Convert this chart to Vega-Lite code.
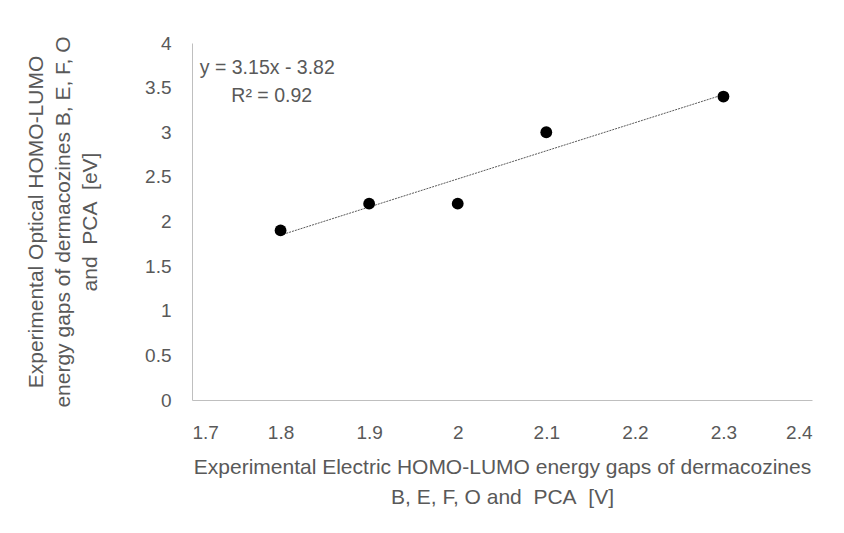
{
  "$schema": "https://vega.github.io/schema/vega-lite/v6.json",
  "autosize": {"type": "none"},
  "width": 620,
  "height": 357,
  "padding": {"left": 192, "top": 43, "right": 32, "bottom": 133},
  "background": "white",
  "config": {
    "view": {"stroke": null},
    "font": "Liberation Sans",
    "text": {"fontWeight": 400},
    "axis": {
      "grid": false,
      "ticks": false,
      "domainColor": "#bfbfbf",
      "domainWidth": 1,
      "labelColor": "#595959",
      "titleColor": "#595959",
      "labelFont": "Liberation Sans",
      "titleFont": "Liberation Sans",
      "labelFontSize": 19,
      "titleFontSize": 21,
      "labelFontWeight": "normal",
      "titleFontWeight": "normal"
    }
  },
  "data": {
    "values": [
      {"electric": 1.8, "optical": 1.9},
      {"electric": 1.9, "optical": 2.2},
      {"electric": 2.0, "optical": 2.2},
      {"electric": 2.1, "optical": 3.0},
      {"electric": 2.3, "optical": 3.4}
    ]
  },
  "layer": [
    {
      "transform": [
        {"regression": "optical", "on": "electric", "method": "linear", "extent": [1.8, 2.3]}
      ],
      "mark": {"type": "line", "color": "#595959", "strokeWidth": 1, "strokeDash": [2, 1]},
      "encoding": {
        "x": {
          "field": "electric",
          "type": "quantitative",
          "scale": {"domain": [1.7, 2.4], "nice": false, "zero": false},
          "axis": {
            "values": [1.7, 1.8, 1.9, 2.0, 2.1, 2.2, 2.3, 2.4],
            "format": "~g",
            "labelPadding": 23,
            "title": ["Experimental Electric HOMO-LUMO energy gaps of dermacozines", "B, E, F, O and\u00a0 PCA\u00a0 [V]"],
            "titlePadding": 14,
            "titleLineHeight": 30
          }
        },
        "y": {
          "field": "optical",
          "type": "quantitative",
          "scale": {"domain": [0, 4], "nice": false},
          "axis": {
            "values": [0, 0.5, 1, 1.5, 2, 2.5, 3, 3.5, 4],
            "format": "~g",
            "labelPadding": 21,
            "title": ["Experimental Optical HOMO-LUMO", "energy gaps of dermacozines B, E, F, O", "and\u00a0 PCA\u00a0 [eV]"],
            "titlePadding": 44,
            "titleLineHeight": 27
          }
        }
      }
    },
    {
      "mark": {"type": "point", "filled": true, "color": "black", "opacity": 1, "size": 140},
      "encoding": {
        "x": {"field": "electric", "type": "quantitative"},
        "y": {"field": "optical", "type": "quantitative"}
      }
    },
    {
      "data": {"values": [{"label": "y = 3.15x - 3.82", "lx": 1.785, "ly": 3.72}, {"label": "R² = 0.92", "lx": 1.79, "ly": 3.41}]},
      "mark": {"type": "text", "fontSize": 19.5, "fontWeight": 400, "fill": "#595959", "strokeWidth": 0, "align": "center", "font": "Liberation Sans"},
      "encoding": {
        "x": {"field": "lx", "type": "quantitative"},
        "y": {"field": "ly", "type": "quantitative"},
        "text": {"field": "label"}
      }
    }
  ]
}
